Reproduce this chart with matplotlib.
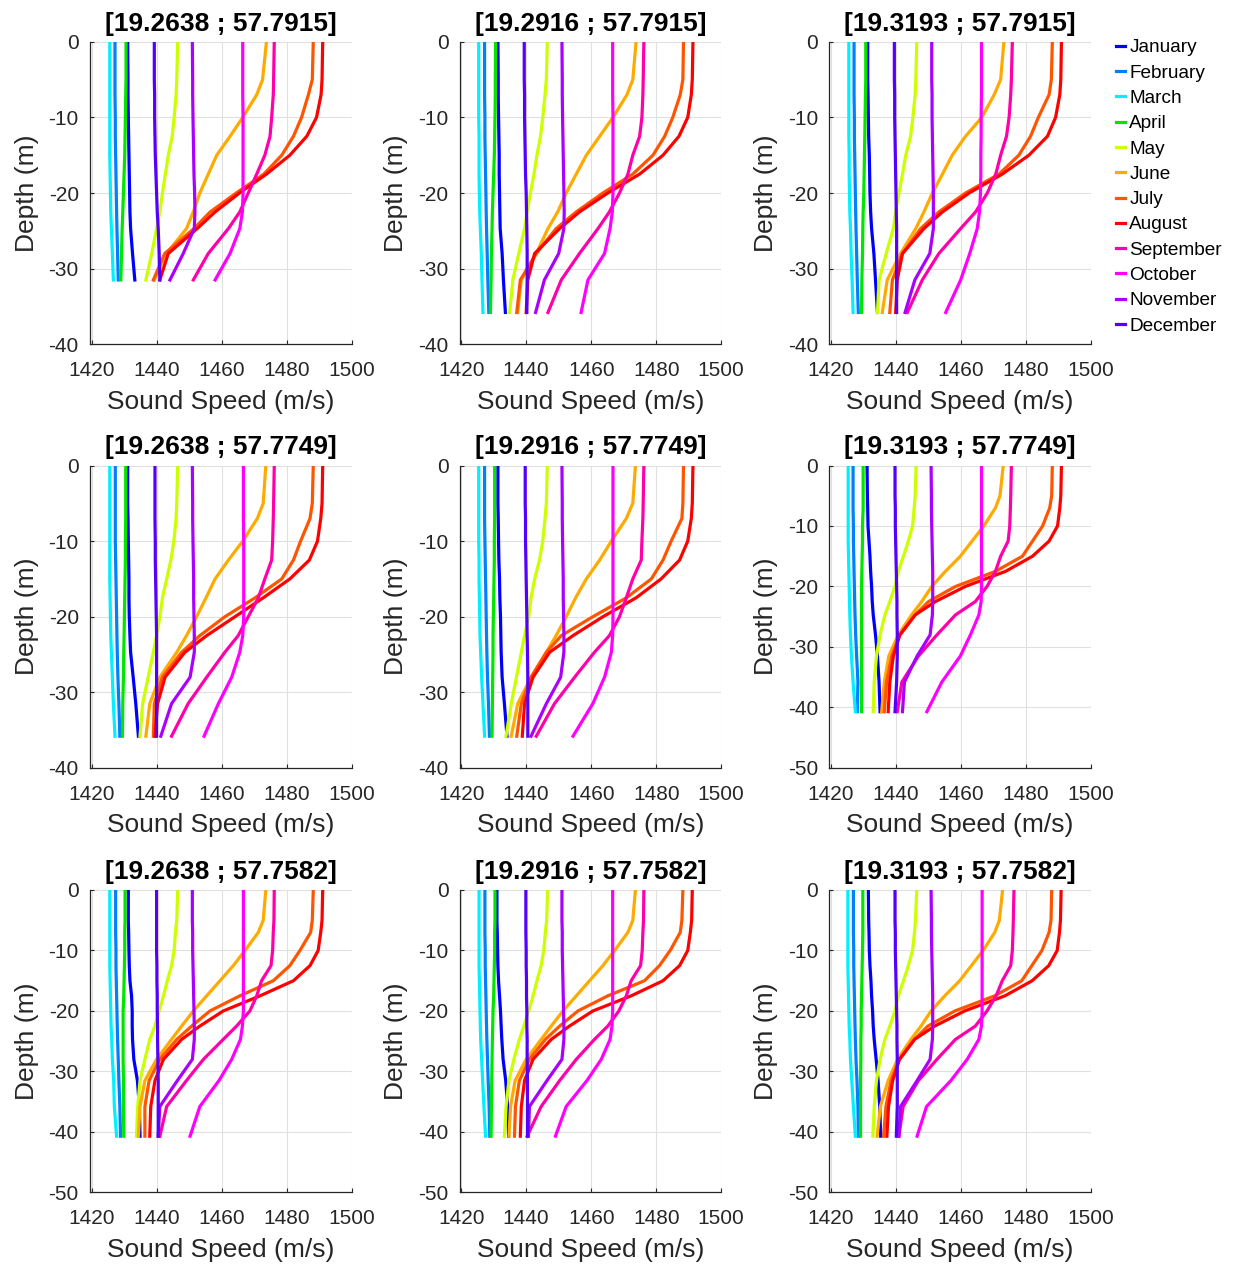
import matplotlib.pyplot as plt

plt.rcParams['font.family'] = ['Liberation Sans', 'DejaVu Sans']
plt.rcParams['axes.unicode_minus'] = False

# Months and line colours
months = ['January', 'February', 'March', 'April', 'May', 'June', 'July',
          'August', 'September', 'October', 'November', 'December']
colors = ['#0000FF', '#0080FF', '#00F0FF', '#00E600', '#CCFF00', '#FFAA00',
          '#FF5500', '#FF0000', '#FF00AA', '#FF00FF', '#AA00FF', '#5500FF']

# Depth levels (m), each profile uses the first len(profile) levels
depth = [0, 5, 7, 10, 12.5, 15, 17.5, 20, 22.5, 24.7, 28, 31.5, 35.8, 40.7]

# Panel coordinates
lons = ['19.2638', '19.2916', '19.3193']
lats = ['57.7915', '57.7749', '57.7582']
ybottom = [[-40, -40, -40], [-40, -40, -50], [-50, -50, -50]]

# Sound speed profiles (m/s), one list per month, Jan..Dec
speed_r1c1 = [
    [1431.1, 1431.2, 1431.2, 1431.3, 1431.4, 1431.5, 1431.6, 1431.7, 1431.8, 1432.0, 1432.6, 1433.3],
    [1427.2, 1427.2, 1427.2, 1427.3, 1427.3, 1427.4, 1427.5, 1427.6, 1427.7, 1427.8, 1428.0, 1428.2],
    [1425.6, 1425.6, 1425.6, 1425.6, 1425.6, 1425.6, 1425.7, 1425.8, 1425.9, 1426.1, 1426.4, 1426.7],
    [1430.6, 1430.6, 1430.5, 1430.4, 1430.3, 1430.2, 1430.0, 1429.8, 1429.6, 1429.4, 1429.2, 1429.0],
    [1446.5, 1446.2, 1446.0, 1445.4, 1444.8, 1443.6, 1442.7, 1441.8, 1441.0, 1440.0, 1438.5, 1436.7],
    [1473.8, 1472.6, 1470.8, 1466.5, 1462.6, 1458.5, 1455.9, 1453.3, 1451.3, 1449.2, 1443.1, 1439.3],
    [1488.2, 1487.9, 1486.7, 1484.6, 1482.1, 1478.5, 1473.0, 1464.5, 1456.5, 1451.5, 1442.5, 1439.0],
    [1491.1, 1490.9, 1490.6, 1489.2, 1486.2, 1481.0, 1473.8, 1465.5, 1458.0, 1452.5, 1443.6, 1441.0],
    [1476.2, 1476.0, 1475.9, 1475.4, 1474.9, 1473.3, 1470.8, 1468.2, 1465.6, 1462.1, 1455.9, 1451.3],
    [1466.5, 1466.5, 1466.5, 1466.6, 1466.6, 1466.6, 1466.6, 1466.6, 1466.4, 1465.6, 1462.6, 1458.0],
    [1451.0, 1451.1, 1451.1, 1451.2, 1451.3, 1451.4, 1451.5, 1451.7, 1451.8, 1451.6, 1448.2, 1444.1],
    [1439.3, 1439.3, 1439.4, 1439.4, 1439.5, 1439.6, 1439.8, 1440.0, 1440.2, 1440.5, 1440.8, 1441.0],
]
speed_r1c2 = [
    [1431.3, 1431.4, 1431.4, 1431.5, 1431.6, 1431.7, 1431.7, 1431.8, 1431.9, 1432.0, 1432.6, 1433.0, 1433.6],
    [1427.2, 1427.2, 1427.2, 1427.3, 1427.3, 1427.4, 1427.5, 1427.6, 1427.7, 1427.8, 1428.0, 1428.2, 1428.5],
    [1425.4, 1425.4, 1425.4, 1425.4, 1425.5, 1425.5, 1425.5, 1425.6, 1425.7, 1425.9, 1426.2, 1426.4, 1426.7],
    [1430.6, 1430.5, 1430.5, 1430.4, 1430.3, 1430.2, 1430.0, 1429.8, 1429.6, 1429.5, 1429.3, 1429.2, 1429.0],
    [1446.5, 1446.2, 1445.8, 1445.1, 1444.4, 1443.3, 1442.4, 1441.3, 1440.3, 1439.5, 1437.7, 1435.9, 1434.9],
    [1473.8, 1472.8, 1471.0, 1466.7, 1462.6, 1458.5, 1455.4, 1452.3, 1449.7, 1446.7, 1443.1, 1438.5, 1437.4],
    [1488.4, 1488.2, 1487.4, 1485.1, 1482.6, 1479.0, 1472.8, 1463.6, 1455.4, 1449.2, 1443.1, 1438.2, 1437.1],
    [1491.3, 1491.1, 1490.8, 1489.7, 1487.0, 1482.1, 1474.9, 1465.1, 1456.4, 1450.3, 1442.6, 1440.5, 1440.0],
    [1476.2, 1476.0, 1475.9, 1475.6, 1474.9, 1472.8, 1471.3, 1468.7, 1465.6, 1462.1, 1456.4, 1450.8, 1446.7],
    [1466.6, 1466.6, 1466.6, 1466.7, 1466.7, 1466.7, 1466.7, 1466.7, 1466.5, 1465.8, 1464.1, 1459.0, 1456.9],
    [1451.0, 1451.1, 1451.1, 1451.2, 1451.3, 1451.4, 1451.5, 1451.6, 1451.7, 1451.6, 1450.0, 1445.6, 1442.9],
    [1439.4, 1439.4, 1439.5, 1439.5, 1439.6, 1439.7, 1439.8, 1440.0, 1440.1, 1440.2, 1440.3, 1440.3, 1440.2],
]
speed_r1c3 = [
    [1431.4, 1431.4, 1431.5, 1431.6, 1431.7, 1431.9, 1432.0, 1432.1, 1432.3, 1432.6, 1433.3, 1433.8, 1434.4],
    [1427.2, 1427.2, 1427.2, 1427.3, 1427.3, 1427.4, 1427.5, 1427.6, 1427.7, 1427.8, 1428.0, 1428.2, 1428.5],
    [1425.6, 1425.6, 1425.6, 1425.6, 1425.6, 1425.7, 1425.7, 1425.8, 1425.9, 1426.1, 1426.3, 1426.6, 1426.9],
    [1430.8, 1430.8, 1430.7, 1430.6, 1430.5, 1430.4, 1430.3, 1430.2, 1430.0, 1429.9, 1429.8, 1429.6, 1429.5],
    [1446.5, 1446.2, 1446.0, 1445.3, 1444.6, 1443.1, 1442.1, 1441.0, 1440.0, 1439.3, 1437.1, 1434.9, 1434.4],
    [1473.3, 1472.3, 1470.3, 1466.5, 1461.5, 1457.4, 1454.4, 1451.3, 1448.7, 1446.2, 1441.5, 1437.4, 1435.9],
    [1488.2, 1487.9, 1487.2, 1483.9, 1481.5, 1477.9, 1471.8, 1461.5, 1453.3, 1447.7, 1442.1, 1439.0, 1438.2],
    [1491.0, 1490.8, 1490.5, 1489.2, 1486.7, 1481.0, 1472.8, 1462.6, 1454.4, 1448.7, 1442.1, 1440.5, 1440.0],
    [1475.9, 1475.6, 1475.4, 1474.9, 1474.1, 1472.3, 1470.8, 1468.2, 1464.6, 1460.0, 1453.3, 1448.2, 1443.6],
    [1466.4, 1466.4, 1466.4, 1466.3, 1466.3, 1466.2, 1466.2, 1466.1, 1465.8, 1465.1, 1462.8, 1460.0, 1455.4],
    [1451.1, 1451.1, 1451.2, 1451.2, 1451.3, 1451.4, 1451.5, 1451.6, 1451.6, 1451.6, 1450.5, 1445.9, 1442.9],
    [1439.6, 1439.6, 1439.7, 1439.7, 1439.8, 1439.9, 1440.0, 1440.1, 1440.2, 1440.3, 1440.3, 1440.3, 1440.3],
]
speed_r2c1 = [
    [1431.1, 1431.1, 1431.2, 1431.3, 1431.4, 1431.5, 1431.5, 1431.6, 1431.8, 1432.0, 1432.8, 1433.6, 1434.4],
    [1427.3, 1427.3, 1427.3, 1427.3, 1427.4, 1427.5, 1427.6, 1427.7, 1427.8, 1427.9, 1428.1, 1428.4, 1428.7],
    [1425.6, 1425.6, 1425.6, 1425.6, 1425.6, 1425.6, 1425.7, 1425.8, 1425.9, 1426.1, 1426.4, 1426.7, 1427.2],
    [1430.5, 1430.5, 1430.5, 1430.4, 1430.4, 1430.3, 1430.2, 1430.1, 1430.0, 1429.9, 1429.8, 1429.6, 1429.5],
    [1446.5, 1446.2, 1446.0, 1445.3, 1444.4, 1443.1, 1441.8, 1441.0, 1440.0, 1439.0, 1437.4, 1435.7, 1434.9],
    [1473.6, 1472.8, 1471.0, 1466.5, 1462.1, 1458.0, 1455.2, 1452.3, 1449.2, 1446.2, 1441.0, 1437.9, 1436.7],
    [1488.2, 1487.9, 1487.2, 1484.3, 1482.1, 1478.5, 1470.3, 1461.0, 1453.3, 1447.7, 1441.8, 1439.3, 1439.0],
    [1491.1, 1490.9, 1490.5, 1489.5, 1487.0, 1481.0, 1472.8, 1464.1, 1455.4, 1448.7, 1442.6, 1440.3, 1439.5],
    [1476.2, 1476.0, 1475.9, 1475.7, 1475.4, 1473.3, 1471.3, 1468.2, 1465.1, 1461.0, 1455.4, 1449.7, 1444.6],
    [1466.7, 1466.7, 1466.7, 1466.8, 1466.8, 1466.8, 1466.8, 1466.8, 1466.5, 1465.6, 1463.1, 1459.0, 1454.6],
    [1451.0, 1451.1, 1451.1, 1451.2, 1451.3, 1451.4, 1451.4, 1451.5, 1451.6, 1451.6, 1450.3, 1444.6, 1441.3],
    [1439.5, 1439.5, 1439.5, 1439.6, 1439.6, 1439.7, 1439.8, 1439.9, 1440.0, 1440.0, 1440.0, 1440.0, 1440.0],
]
speed_r2c2 = [
    [1431.3, 1431.3, 1431.4, 1431.5, 1431.6, 1431.8, 1431.9, 1432.1, 1432.2, 1432.3, 1432.6, 1433.3, 1434.1],
    [1427.2, 1427.2, 1427.2, 1427.3, 1427.4, 1427.5, 1427.6, 1427.7, 1427.8, 1427.9, 1428.1, 1428.4, 1428.7],
    [1425.4, 1425.4, 1425.4, 1425.4, 1425.5, 1425.5, 1425.6, 1425.7, 1425.8, 1426.0, 1426.3, 1426.7, 1427.2],
    [1430.3, 1430.3, 1430.3, 1430.2, 1430.2, 1430.1, 1430.0, 1429.9, 1429.8, 1429.8, 1429.7, 1429.6, 1429.5],
    [1446.5, 1446.2, 1445.8, 1445.1, 1444.1, 1442.6, 1441.5, 1440.8, 1439.5, 1438.5, 1437.0, 1435.4, 1433.8],
    [1473.6, 1472.8, 1470.8, 1466.2, 1462.6, 1458.5, 1455.2, 1452.3, 1449.2, 1446.2, 1441.5, 1437.4, 1435.4],
    [1488.4, 1488.2, 1487.9, 1484.6, 1482.1, 1478.5, 1470.8, 1460.5, 1450.8, 1446.2, 1441.5, 1438.5, 1437.1],
    [1491.3, 1491.1, 1490.8, 1489.7, 1487.2, 1481.5, 1473.8, 1463.6, 1454.4, 1447.2, 1442.1, 1439.5, 1438.8],
    [1476.2, 1476.0, 1475.9, 1475.6, 1475.4, 1472.8, 1470.8, 1468.7, 1465.6, 1461.0, 1454.9, 1448.7, 1443.1],
    [1466.7, 1466.7, 1466.7, 1466.7, 1466.7, 1466.7, 1466.7, 1466.7, 1466.6, 1466.2, 1464.1, 1460.5, 1454.4],
    [1451.0, 1451.1, 1451.1, 1451.2, 1451.3, 1451.4, 1451.4, 1451.5, 1451.6, 1451.6, 1450.6, 1446.2, 1441.5],
    [1439.7, 1439.7, 1439.8, 1439.8, 1439.9, 1440.0, 1440.1, 1440.2, 1440.3, 1440.4, 1440.5, 1440.5, 1440.5],
]
speed_r2c3 = [
    [1431.2, 1431.3, 1431.4, 1431.5, 1431.8, 1432.1, 1432.3, 1432.6, 1432.8, 1433.1, 1433.8, 1434.4, 1434.9, 1435.2],
    [1426.9, 1426.9, 1426.9, 1427.0, 1427.0, 1427.1, 1427.2, 1427.3, 1427.4, 1427.5, 1427.7, 1428.0, 1428.4, 1428.2],
    [1425.4, 1425.4, 1425.4, 1425.4, 1425.4, 1425.5, 1425.6, 1425.7, 1425.8, 1425.9, 1426.1, 1426.4, 1426.9, 1427.6],
    [1430.0, 1430.0, 1430.0, 1429.8, 1429.8, 1429.7, 1429.6, 1429.5, 1429.5, 1429.5, 1429.5, 1429.5, 1429.5, 1429.5],
    [1446.3, 1446.0, 1445.7, 1445.2, 1443.9, 1442.4, 1440.8, 1439.8, 1438.2, 1436.7, 1435.2, 1434.1, 1433.4, 1433.1],
    [1473.1, 1472.1, 1470.7, 1467.1, 1463.5, 1459.9, 1455.3, 1451.1, 1448.0, 1444.9, 1440.8, 1437.9, 1436.5, 1435.7],
    [1488.2, 1488.0, 1487.4, 1485.2, 1482.1, 1479.0, 1470.7, 1458.4, 1450.1, 1446.0, 1441.3, 1438.8, 1437.2, 1436.5],
    [1491.0, 1490.8, 1490.5, 1489.8, 1487.2, 1482.1, 1473.8, 1461.4, 1452.2, 1446.0, 1441.3, 1439.3, 1438.2, 1437.7],
    [1475.6, 1475.4, 1475.3, 1475.1, 1474.6, 1472.3, 1470.7, 1468.1, 1464.5, 1458.4, 1452.7, 1447.0, 1441.9, 1440.5],
    [1466.4, 1466.4, 1466.4, 1466.4, 1466.4, 1466.4, 1466.4, 1466.4, 1466.3, 1465.6, 1463.0, 1459.9, 1454.2, 1449.6],
    [1450.9, 1451.0, 1451.0, 1451.1, 1451.2, 1451.3, 1451.4, 1451.4, 1451.4, 1451.3, 1450.6, 1446.6, 1442.7, 1442.1],
    [1439.8, 1439.8, 1439.9, 1439.9, 1440.0, 1440.1, 1440.2, 1440.3, 1440.4, 1440.4, 1440.5, 1440.5, 1440.3, 1439.8],
]
speed_r3c1 = [
    [1431.3, 1431.3, 1431.4, 1431.5, 1431.6, 1431.8, 1432.3, 1432.5, 1432.5, 1432.6, 1433.0, 1434.1, 1434.7, 1434.9],
    [1427.4, 1427.4, 1427.4, 1427.5, 1427.5, 1427.6, 1427.7, 1427.8, 1427.9, 1428.0, 1428.2, 1428.4, 1428.7, 1428.9],
    [1425.6, 1425.6, 1425.6, 1425.6, 1425.6, 1425.7, 1425.8, 1425.9, 1426.0, 1426.2, 1426.4, 1426.8, 1427.0, 1427.7],
    [1430.3, 1430.3, 1430.2, 1430.2, 1430.1, 1430.0, 1429.9, 1429.7, 1429.7, 1429.7, 1429.7, 1429.8, 1429.8, 1429.9],
    [1446.5, 1446.2, 1445.8, 1445.4, 1444.6, 1443.3, 1442.1, 1440.8, 1439.5, 1437.9, 1436.4, 1434.9, 1434.2, 1433.8],
    [1473.6, 1472.8, 1471.3, 1467.2, 1463.6, 1459.5, 1455.4, 1451.3, 1447.7, 1444.6, 1440.0, 1436.4, 1434.9, 1434.4],
    [1488.2, 1487.9, 1487.4, 1484.1, 1481.0, 1475.9, 1465.6, 1456.4, 1450.8, 1446.2, 1441.0, 1437.7, 1436.4, 1436.4],
    [1491.1, 1490.9, 1490.5, 1489.7, 1487.2, 1482.1, 1471.8, 1460.5, 1453.3, 1447.7, 1442.1, 1439.5, 1438.2, 1437.9],
    [1476.2, 1476.1, 1475.9, 1475.7, 1475.2, 1472.3, 1470.8, 1468.7, 1464.6, 1460.5, 1454.4, 1449.2, 1443.1, 1441.0],
    [1466.7, 1466.7, 1466.7, 1466.7, 1466.7, 1466.7, 1466.7, 1466.7, 1466.4, 1465.8, 1463.1, 1459.2, 1453.3, 1450.3],
    [1451.0, 1451.0, 1451.1, 1451.1, 1451.2, 1451.3, 1451.4, 1451.5, 1451.6, 1451.6, 1451.0, 1446.4, 1441.0, 1440.5],
    [1440.0, 1440.0, 1440.0, 1440.0, 1440.1, 1440.1, 1440.2, 1440.2, 1440.3, 1440.3, 1440.4, 1440.5, 1440.5, 1440.5],
]
speed_r3c2 = [
    [1431.0, 1431.0, 1431.1, 1431.2, 1431.3, 1431.5, 1431.8, 1432.1, 1432.3, 1432.5, 1432.9, 1433.7, 1434.3, 1434.6],
    [1427.3, 1427.3, 1427.3, 1427.4, 1427.4, 1427.5, 1427.6, 1427.7, 1427.8, 1427.9, 1428.1, 1428.3, 1428.6, 1428.8],
    [1425.5, 1425.5, 1425.5, 1425.5, 1425.5, 1425.6, 1425.7, 1425.8, 1425.9, 1426.0, 1426.3, 1426.6, 1427.0, 1427.5],
    [1430.4, 1430.4, 1430.3, 1430.3, 1430.2, 1430.1, 1430.0, 1429.8, 1429.7, 1429.6, 1429.5, 1429.4, 1429.3, 1429.2],
    [1446.6, 1446.3, 1445.9, 1445.4, 1444.6, 1443.3, 1442.1, 1440.8, 1439.3, 1437.9, 1436.2, 1434.7, 1433.8, 1433.3],
    [1473.6, 1472.8, 1471.3, 1467.2, 1463.6, 1459.5, 1455.4, 1451.3, 1447.7, 1444.6, 1440.0, 1436.6, 1435.2, 1434.7],
    [1488.2, 1487.9, 1487.4, 1484.3, 1481.0, 1476.4, 1465.1, 1455.9, 1450.3, 1445.9, 1441.0, 1437.9, 1436.7, 1436.4],
    [1491.1, 1490.9, 1490.5, 1489.7, 1487.2, 1482.1, 1472.3, 1460.5, 1453.3, 1447.7, 1442.1, 1439.5, 1438.5, 1438.2],
    [1476.2, 1476.1, 1475.9, 1475.7, 1475.2, 1472.3, 1470.8, 1468.5, 1465.1, 1461.0, 1455.4, 1450.3, 1444.6, 1440.3],
    [1466.6, 1466.6, 1466.6, 1466.6, 1466.6, 1466.6, 1466.6, 1466.6, 1466.4, 1465.8, 1463.1, 1458.7, 1452.3, 1449.0],
    [1451.0, 1451.0, 1451.1, 1451.1, 1451.2, 1451.3, 1451.4, 1451.5, 1451.6, 1451.6, 1451.0, 1446.4, 1441.0, 1440.7],
    [1439.9, 1439.9, 1439.9, 1440.0, 1440.0, 1440.1, 1440.1, 1440.2, 1440.2, 1440.3, 1440.3, 1440.4, 1440.4, 1440.4],
]
speed_r3c3 = [
    [1431.6, 1431.7, 1431.8, 1431.9, 1432.1, 1432.4, 1432.6, 1432.9, 1433.1, 1433.4, 1434.0, 1434.6, 1435.1, 1435.4],
    [1427.0, 1427.0, 1427.0, 1427.1, 1427.1, 1427.2, 1427.3, 1427.4, 1427.5, 1427.6, 1427.8, 1428.1, 1428.4, 1428.5],
    [1425.3, 1425.3, 1425.3, 1425.3, 1425.3, 1425.4, 1425.5, 1425.6, 1425.7, 1425.9, 1426.1, 1426.5, 1427.0, 1427.6],
    [1429.9, 1429.9, 1429.9, 1429.8, 1429.7, 1429.6, 1429.5, 1429.4, 1429.4, 1429.3, 1429.3, 1429.2, 1429.2, 1429.2],
    [1446.5, 1446.1, 1445.8, 1445.2, 1443.9, 1442.4, 1440.8, 1439.8, 1438.2, 1436.7, 1435.2, 1434.1, 1433.4, 1433.0],
    [1472.9, 1471.9, 1470.5, 1466.9, 1463.3, 1459.7, 1455.1, 1450.9, 1447.8, 1444.7, 1440.6, 1437.7, 1435.3, 1434.3],
    [1488.0, 1487.8, 1487.2, 1485.0, 1481.9, 1478.8, 1470.5, 1458.2, 1449.9, 1445.8, 1441.1, 1438.6, 1437.0, 1436.3],
    [1490.9, 1490.7, 1490.4, 1489.7, 1487.1, 1482.0, 1473.6, 1461.2, 1452.0, 1445.8, 1441.2, 1439.1, 1437.8, 1437.3],
    [1476.4, 1476.2, 1476.1, 1475.9, 1475.4, 1472.8, 1470.9, 1468.1, 1464.5, 1458.4, 1452.7, 1447.0, 1442.3, 1441.0],
    [1466.6, 1466.6, 1466.6, 1466.6, 1466.6, 1466.6, 1466.6, 1466.6, 1466.4, 1465.6, 1462.0, 1457.0, 1449.5, 1446.6],
    [1450.9, 1451.0, 1451.0, 1451.1, 1451.2, 1451.3, 1451.4, 1451.4, 1451.4, 1451.3, 1450.6, 1446.6, 1441.5, 1441.0],
    [1439.8, 1439.8, 1439.9, 1439.9, 1440.0, 1440.1, 1440.2, 1440.3, 1440.4, 1440.4, 1440.5, 1440.5, 1440.5, 1440.2],
]

panels = [[speed_r1c1, speed_r1c2, speed_r1c3],
          [speed_r2c1, speed_r2c2, speed_r2c3],
          [speed_r3c1, speed_r3c2, speed_r3c3]]

fig = plt.figure(figsize=(12.39, 12.66), dpi=100)

# axes placement (figure fractions)
lefts = [0.0726, 0.3709, 0.6691]
bottoms = [0.7281, 0.3934, 0.0581]
w, h = 0.2112, 0.2389
dark = '#262626'

for r in range(3):
    for c in range(3):
        ax = fig.add_axes([lefts[c], bottoms[r], w, h])
        for m in range(12):
            prof = panels[r][c][m]
            z = [-d for d in depth[:len(prof)]]
            ax.plot(prof, z, color=colors[m], lw=2.3, label=months[m])
        ax.set_xlim(1419.5, 1500)
        ax.set_ylim(ybottom[r][c], 0)
        ax.set_xticks([1420, 1440, 1460, 1480, 1500])
        ax.set_yticks(range(ybottom[r][c], 1, 10))
        ax.grid(True, color='#e0e0e0', lw=0.8)
        ax.set_axisbelow(True)
        for s in ['top', 'right']:
            ax.spines[s].set_visible(False)
        for s in ['left', 'bottom']:
            ax.spines[s].set_color(dark)
            ax.spines[s].set_linewidth(0.9)
        ax.tick_params(axis='both', direction='in', length=3, width=0.8,
                       colors=dark, labelsize=15)
        ax.tick_params(axis='x', pad=12)
        ax.tick_params(axis='y', pad=8)
        ax.set_xlabel('Sound Speed (m/s)', fontsize=19, color=dark, labelpad=7)
        ax.set_ylabel('Depth (m)', fontsize=19, color=dark, labelpad=7)
        ax.set_title(f'[{lons[c]} ; {lats[r]}]', fontsize=19,
                     fontweight='bold', pad=8)
        if r == 0 and c == 0:
            handles, labels = ax.get_legend_handles_labels()

fig.legend(handles, labels, loc='upper left',
           bbox_to_anchor=(1116 / 1239, 1 - 39 / 1266), frameon=False,
           fontsize=13.7, handlelength=0.45, handletextpad=0.25,
           labelspacing=0.42, borderpad=0, borderaxespad=0)

fig.savefig('out.png', dpi=100)
